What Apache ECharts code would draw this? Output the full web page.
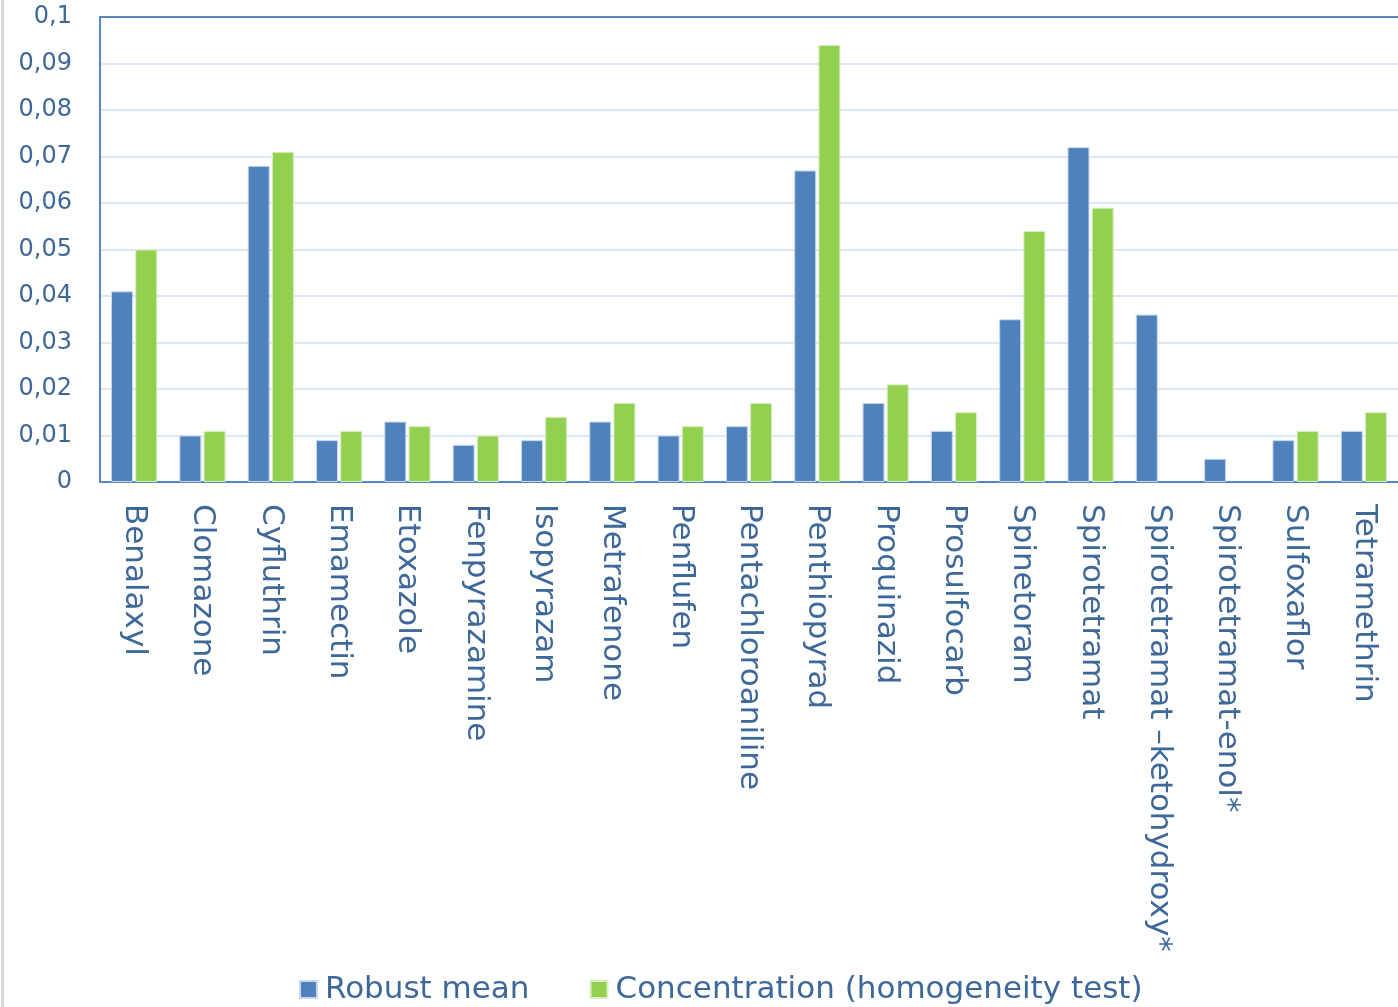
<!DOCTYPE html>
<html>
<head>
<meta charset="utf-8">
<script src="https://cdn.jsdelivr.net/npm/echarts@6/dist/echarts.min.js"></script>
<style>
    html, body { margin: 0; padding: 0; background: #fff; }
    #frame { position: absolute; left: 1px; top: 0; width: 3px; height: 1007px; background: #d9d9d9; }
    #chart { position: absolute; left: 0; top: 0; width: 1398px; height: 1007px; }
</style>
</head>
<body>
<div id="frame"></div>
<div id="chart"></div>
<script>
// substances on the x axis
const categories = [
    'Benalaxyl', 'Clomazone', 'Cyfluthrin', 'Emamectin', 'Etoxazole',
    'Fenpyrazamine', 'Isopyrazam', 'Metrafenone', 'Penflufen', 'Pentachloroaniline',
    'Penthiopyrad', 'Proquinazid', 'Prosulfocarb', 'Spinetoram', 'Spirotetramat',
    'Spirotetramat \u2013ketohydroxy*', 'Spirotetramat-enol*', 'Sulfoxaflor', 'Tetramethrin'
];
const robustMean = [
    0.041, 0.010, 0.068, 0.009, 0.013,
    0.008, 0.009, 0.013, 0.010, 0.012,
    0.067, 0.017, 0.011, 0.035, 0.072,
    0.036, 0.005, 0.009, 0.011
];
const homogeneity = [
    0.050, 0.011, 0.071, 0.011, 0.012,
    0.010, 0.014, 0.017, 0.012, 0.017,
    0.094, 0.021, 0.015, 0.054, 0.059,
    null, null, 0.011, 0.015
];
const seriesNames = ['Robust mean', 'Concentration (homogeneity test)'];

const textColor = '#3e6899';
const axisColor = '#5a86c0';
const fontFamily = '"DejaVu Sans", sans-serif';

let option = {
    animation: false,
    legend: {
        bottom: -3,
        left: 294,
        itemWidth: 17,
        itemHeight: 17,
        itemGap: 60,
        icon: 'rect',
        textStyle: {
            color: textColor,
            fontFamily: fontFamily,
            fontSize: 31,
            padding: [0, 0, 0, 3],
        },
        data: seriesNames,
    },
    grid: {
        left: 100,
        top: 17,
        right: -8,
        bottom: 525,
    },
    xAxis: [
        {
            type: 'category',
            data: categories,
            axisTick: { show: false },
            axisLine: { lineStyle: { color: axisColor, width: 2 } },
            axisLabel: {
                rotate: -90,
                interval: 0,
                margin: 22,
                color: textColor,
                fontFamily: fontFamily,
                fontSize: 31,
            },
        },
        {
            // top frame line of the plot area
            type: 'category',
            position: 'top',
            data: categories,
            axisTick: { show: false },
            axisLabel: { show: false },
            axisLine: { lineStyle: { color: axisColor, width: 2 } },
        },
    ],
    yAxis: {
        type: 'value',
        min: 0,
        max: 0.1,
        interval: 0.01,
        axisLine: { show: true, lineStyle: { color: axisColor, width: 2 } },
        axisTick: { show: false },
        splitLine: { lineStyle: { color: '#dde6f3', width: 2 } },
        axisLabel: {
            margin: 28,
            color: textColor,
            fontFamily: fontFamily,
            fontSize: 24,
            formatter: function (v) {
                return String(+v.toFixed(2)).replace('.', ',');
            },
        },
    },
    series: [
        {
            name: seriesNames[0],
            type: 'bar',
            data: robustMean,
            barWidth: 22,
            barGap: '10%',
            itemStyle: { color: '#4f81bd', borderColor: '#c9d8ec', borderWidth: 1 },
        },
        {
            name: seriesNames[1],
            type: 'bar',
            data: homogeneity,
            barWidth: 22,
            itemStyle: { color: '#92d050', borderColor: '#d8efc3', borderWidth: 1 },
        },
    ],
};

let chart = echarts.init(document.getElementById('chart'));
chart.setOption(option);
</script>
</body>
</html>
